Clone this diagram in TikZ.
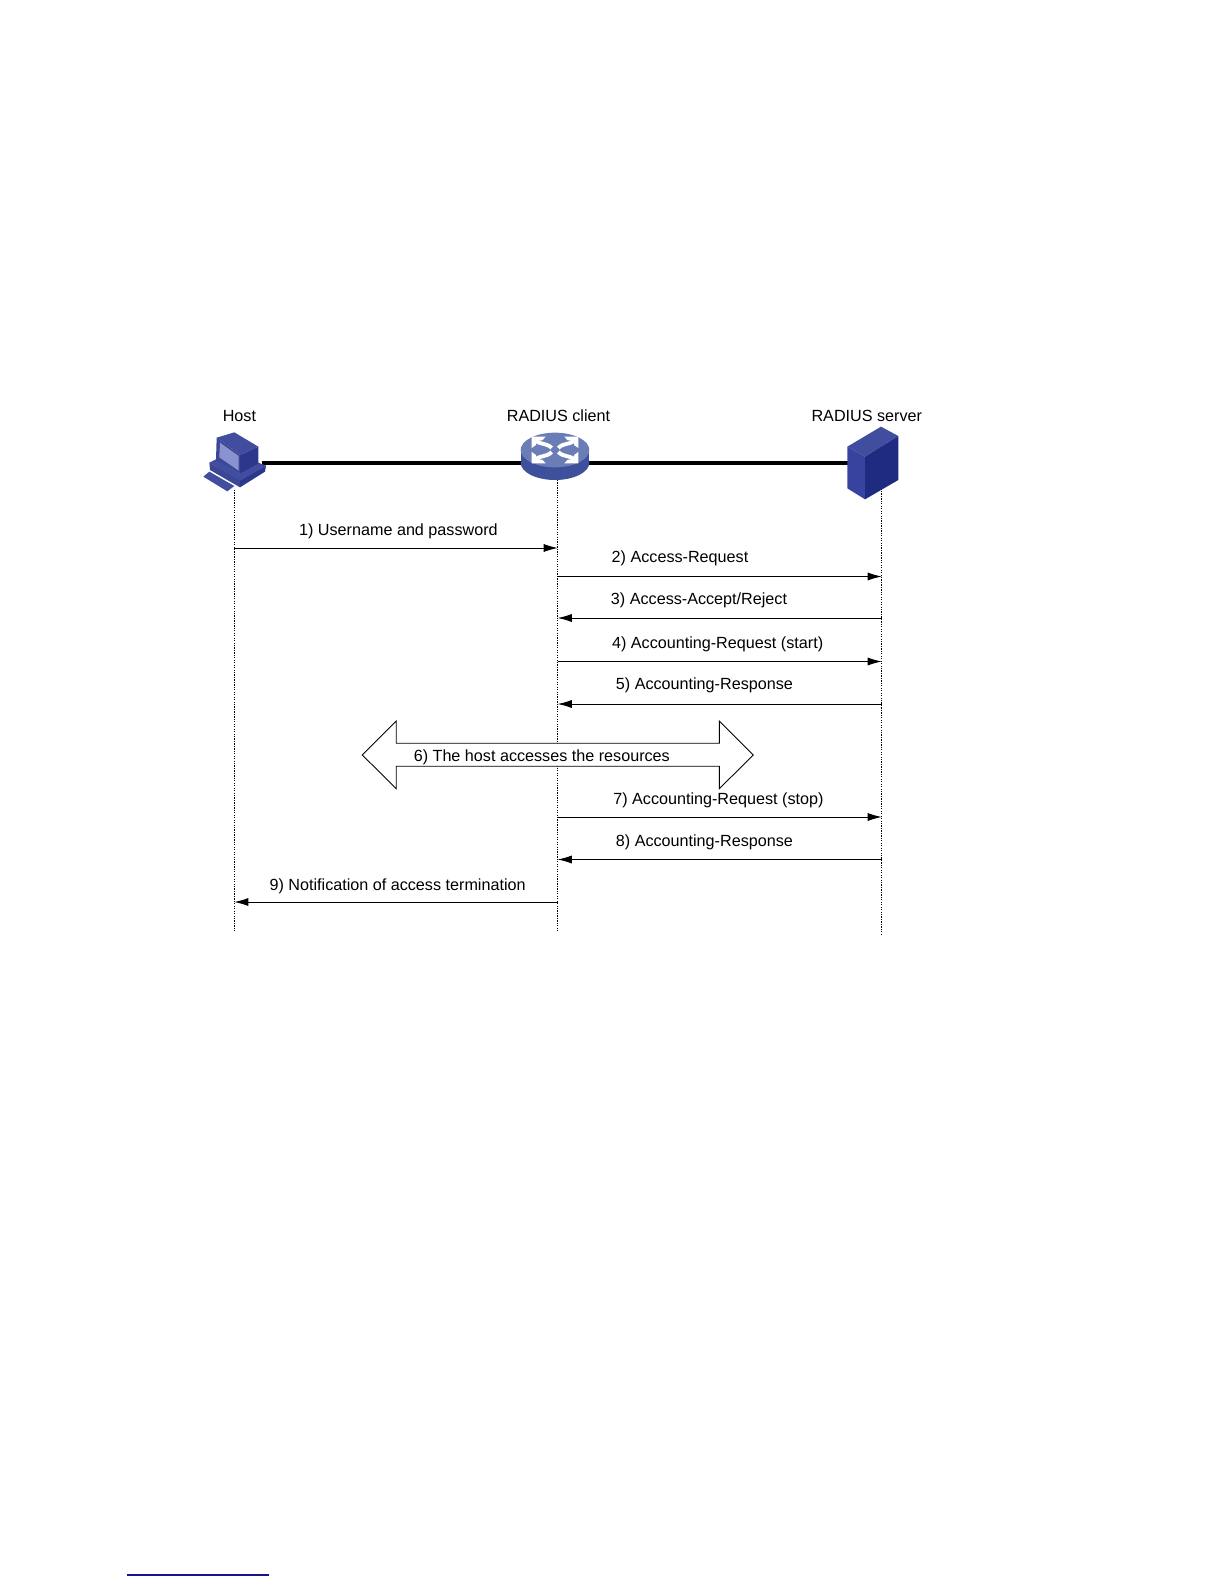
\documentclass[tikz,border=0pt]{standalone}
\usepackage{fontspec}
\setmainfont{Liberation Sans}
\usepackage{xcolor}
\usepackage{tikz}
\usetikzlibrary{arrows.meta, positioning}

\definecolor{iconrim}{HTML}{3B4795}
\definecolor{icontop}{HTML}{414EA0}
\definecolor{iconscreen}{HTML}{8A93D2}
\definecolor{icondark}{HTML}{2C388C}
\definecolor{routertop}{HTML}{6A7DB6}
\definecolor{routerside}{HTML}{3E4F9C}
\definecolor{serverfront}{HTML}{36439F}
\definecolor{serverside}{HTML}{1F2B80}
\definecolor{rulenavy}{HTML}{14148C}

\begin{document}
\begin{tikzpicture}[
    x=0.02cm, y=-0.02cm,
    % One unit is one pixel of the page
    label/.style={font=\fontsize{9.2}{11}\selectfont, inner sep=0pt},
    icon/.style={minimum height=1cm, inner sep=0pt},
    link/.style={line width=2pt},
    lifeline/.style={line width=0.4pt, dash pattern=on 0.7pt off 0.7pt},
    msg/.style={line width=0.5pt, -{Latex[length=8pt,width=4.6pt]}},
    bigarrow/.style={draw=black, fill=white, line width=0.5pt, line join=miter},
    rule/.style={draw=rulenavy, line width=0.7pt}
]
\useasboundingbox (0,0) rectangle (1224,1584);

%% -- Devices ------------------------------------------------
\node (host) [icon, minimum width=1.16cm] at (233,463) {};
\node (client) [icon, minimum width=1.3cm] at (556,463) {};
\node (server) [icon, minimum width=1cm] at (873,463) {};

\node (hostlabel) [label] at (239.4,416) {Host};
\node (clientlabel) [label] at (558.5,416) {RADIUS client};
\node (serverlabel) [label] at (866.8,416) {RADIUS server};

\draw [link] (host) -- (client);
\draw [link] (client) -- (server);

%% -- Lifelines ----------------------------------------------
\coordinate (hosttop) at (234.3,490);
\coordinate (hostend) at (234.3,931);
\coordinate (clienttop) at (557.7,480);
\coordinate (clientend) at (557.7,931);
\coordinate (servertop) at (881.7,486);
\coordinate (serverend) at (881.7,934);

\draw [lifeline] (hosttop) -- (hostend);
\draw [lifeline] (clienttop) -- (clientend);
\draw [lifeline] (servertop) -- (serverend);

%% -- Host icon ----------------------------------------------
\begin{scope}[shift={(190,400)}, scale=1/3]
    \fill [icontop] (40,230) -- (58,215) -- (133,258) -- (112,274) -- cycle;
    \fill [iconrim] (58,188) -- (60,210) -- (150,262) -- (150,240) -- cycle;
    \fill [icondark] (150,240) -- (228,197) -- (225,215) -- (150,262) -- cycle;
    \fill [icontop] (58,188) -- (78,178) -- (150,222) -- (205,188) -- (228,197) -- (150,242) -- cycle;
    \fill [icontop] (80,113) -- (133,97) -- (205,140) -- (150,165) -- cycle;
    \fill [iconrim] (80,113) -- (150,165) -- (150,222) -- (78,180) -- cycle;
    \fill [iconscreen] (90,128) -- (146,168) -- (146,212) -- (88,172) -- cycle;
    \fill [icondark] (150,165) -- (205,140) -- (205,190) -- (150,222) -- cycle;
\end{scope}

%% -- Router icon --------------------------------------------
\begin{scope}[shift={(490,400)}, scale=1/3]
    \fill [routerside] (195,188) ellipse [x radius=103, y radius=52];
    \fill [routerside] (92,150) rectangle (298,188);
    \fill [routertop] (195,150) ellipse [x radius=103, y radius=52];
    \foreach \sx/\sy in {1/1,-1/1,1/-1,-1/-1} {
        \begin{scope}[shift={(195,150)}, xscale=\sx, yscale=\sy]
            \fill [white] (70,40) -- (28,40) -- (38,29) -- (57,27) -- (57,15) -- (70,6) -- cycle;
            \draw [white, line width=2.2pt] (58,28) .. controls (40,14) and (25,22) .. (10,6);
        \end{scope}
    }
\end{scope}

%% -- Server icon --------------------------------------------
\begin{scope}[shift={(800,400)}, scale=1/3]
    \fill [icontop] (142,140) -- (243,80) -- (295,108) -- (195,170) -- cycle;
    \fill [serverfront] (142,140) -- (195,170) -- (195,298) -- (142,265) -- cycle;
    \fill [serverside] (195,170) -- (295,108) -- (295,240) -- (195,298) -- cycle;
\end{scope}

%% -- Message ends -------------------------------------------
\coordinate (h1) at (234.3,548);
\coordinate (c1) at (557.7,548);
\coordinate (c2) at (557.7,576.5);
\coordinate (s2) at (881.7,576.5);
\coordinate (c3) at (557.7,618);
\coordinate (s3) at (881.7,618);
\coordinate (c4) at (557.7,661.5);
\coordinate (s4) at (881.7,661.5);
\coordinate (c5) at (557.7,704);
\coordinate (s5) at (881.7,704);
\coordinate (c7) at (557.7,817);
\coordinate (s7) at (881.7,817);
\coordinate (c8) at (557.7,859.5);
\coordinate (s8) at (881.7,859.5);
\coordinate (c9) at (557.7,902);
\coordinate (h9) at (234.3,902);

\draw [msg] (h1) -- (c1);
\draw [msg] (c2) -- (s2);
\draw [msg] (s3) -- (c3);
\draw [msg] (c4) -- (s4);
\draw [msg] (s5) -- (c5);
\draw [msg] (c7) -- (s7);
\draw [msg] (s8) -- (c8);
\draw [msg] (c9) -- (h9);

\node (m1) [label] at (398.4,531) {1) Username and password};
\node (m2) [label] at (680,558.5) {2) Access-Request};
\node (m3) [label] at (699,600) {3) Access-Accept/Reject};
\node (m4) [label] at (717.6,644) {4) Accounting-Request (start)};
\node (m5) [label] at (704.4,685) {5) Accounting-Response};
\node (m7) [label] at (718.4,800) {7) Accounting-Request (stop)};
\node (m8) [label] at (704.4,842) {8) Accounting-Response};
\node (m9) [label] at (397.6,886) {9) Notification of access termination};

%% -- Resource access ----------------------------------------
\draw [bigarrow] (362.3,755) -- (396.3,721) -- (396.3,743.3) -- (719.3,743.3) -- (719.3,721)
    -- (753.3,755) -- (719.3,788.7) -- (719.3,766.3) -- (396.3,766.3) -- (396.3,788.7) -- cycle;
\node (m6) [label] at (541.8,757.5) {6) The host accesses the resources};

%% -- Rule at the page foot ----------------------------------
\coordinate (ruleleft) at (126.7,1575);
\coordinate (ruleright) at (269,1575);
\draw [rule] (ruleleft) -- (ruleright);

\end{tikzpicture}
\end{document}
